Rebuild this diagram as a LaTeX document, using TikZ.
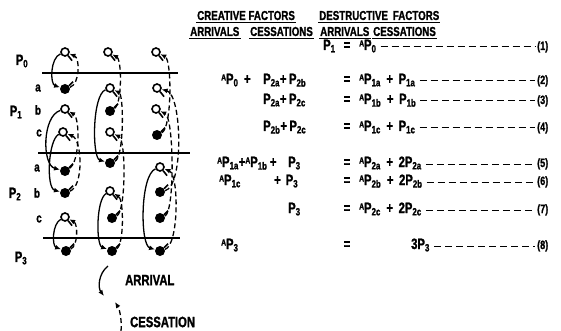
\documentclass[tikz,border=0pt]{standalone}
\usepackage{fontspec}
\setmainfont{Liberation Sans}[FakeStretch=0.75,BoldFeatures={FakeBold=1.2}]
\usetikzlibrary{arrows.meta,positioning}
\newcommand{\Psub}[1]{P\textsubscript{#1}}
\newcommand{\Asm}{\raisebox{3.5pt}{\fontsize{9}{9}\selectfont A}}
\tikzset{
  stub/.style={line width=1.6pt},
  free/.style={circle,draw,line width=1.6pt,inner sep=0pt,minimum size=8pt,
    append after command={(\tikzlastnode.-50) edge[stub] +(4pt,-5pt)}},
  busy/.style={circle,fill,inner sep=0pt,minimum size=10pt,
    append after command={(\tikzlastnode.40) edge[stub] +(4pt,4pt)}},
  level/.style={line width=1.7pt},
  arrival/.style={line width=1.3pt,-{Latex[length=6pt,width=5pt]}},
  cessation/.style={arrival,dash pattern=on 5pt off 3pt},
  lvl/.style={font=\bfseries\fontsize{15}{16}\selectfont,inner sep=1pt},
  sub/.style={font=\bfseries\fontsize{13}{14}\selectfont,inner sep=1pt},
  head/.style={font=\bfseries\fontsize{13}{14}\selectfont,inner sep=1pt,anchor=base west},
  eqn/.style={font=\bfseries\fontsize{15}{16}\selectfont,inner sep=1pt,anchor=base west},
  lead/.style={line width=1pt,dash pattern=on 7pt off 4pt},
  tag/.style={font=\bfseries\fontsize{12}{13}\selectfont,inner sep=1pt,anchor=base west},
  legend/.style={font=\bfseries\fontsize{15}{16}\selectfont,inner sep=1pt,anchor=west}
}
\begin{document}
\begin{tikzpicture}[x=1pt,y=-1pt]
  \useasboundingbox (0,0) rectangle (561,331);
  % states
  \node[free] (P0-1) at (65,52) {};
  \node[free] (P0-2) at (108,52) {};
  \node[free] (P0-3) at (156,52) {};
  \node[busy] (P1a-1) at (65,89) {};
  \node[free] (P1a-2) at (110,88) {};
  \node[free] (P1a-3) at (157,88) {};
  \node[free] (P1b-1) at (65,109) {};
  \node[busy] (P1b-2) at (110,111) {};
  \node[free] (P1b-3) at (156,109) {};
  \node[free] (P1c-1) at (63,132) {};
  \node[free] (P1c-2) at (110,132) {};
  \node[busy] (P1c-3) at (157,135) {};
  \node[busy] (P2a-1) at (65,171) {};
  \node[busy] (P2a-2) at (110,163) {};
  \node[free] (P2a-3) at (160,167) {};
  \node[busy] (P2b-1) at (65,193) {};
  \node[free] (P2b-2) at (110,191) {};
  \node[busy] (P2b-3) at (160,192) {};
  \node[free] (P2c-1) at (65,217) {};
  \node[busy] (P2c-2) at (112,218) {};
  \node[busy] (P2c-3) at (160,218) {};
  \node[busy] (P3-1) at (66,251) {};
  \node[busy] (P3-2) at (112,251) {};
  \node[busy] (P3-3) at (160,251) {};
  % level lines
  \draw[level] (42,73) -- (178,73);
  \draw[level] (38,153) -- (190,153);
  \draw[level] (43,238) -- (180,238);
  % row labels
  \node[lvl] (L0) at (22,61) {\Psub{0}};
  \node[lvl] (L1) at (16,112) {\Psub{1}};
  \node[lvl] (L2) at (15,194) {\Psub{2}};
  \node[lvl] (L3) at (21,258) {\Psub{3}};
  \node[sub] (la1) at (38,88) {a};
  \node[sub] (lb1) at (38,110) {b};
  \node[sub] (lc1) at (39,133) {c};
  \node[sub] (la2) at (37,168) {a};
  \node[sub] (lb2) at (37,193) {b};
  \node[sub] (lc2) at (39,219) {c};
  % channel 1
  \draw[arrival] (P0-1) .. controls (50,58) and (50,84) .. (P1a-1);
  \draw[cessation] (P1a-1) .. controls (80,84) and (80,58) .. (P0-1);
  \draw[arrival] (P1b-1) .. controls (42,116) and (42,165) .. (P2a-1);
  \draw[cessation] (P2a-1) .. controls (80,162) and (80,118) .. (P1b-1);
  \draw[arrival] (P1c-1) .. controls (48,140) and (46,188) .. (P2b-1);
  \draw[cessation] (P2b-1) .. controls (84,186) and (82,140) .. (P1c-1);
  \draw[arrival] (P2c-1) .. controls (52,224) and (52,246) .. (P3-1);
  \draw[cessation] (P3-1) .. controls (78,246) and (78,224) .. (P2c-1);
  % channel 2
  \draw[cessation] (P1b-2) .. controls (122,104) and (122,60) .. (P0-2);
  \draw[arrival] (P1a-2) .. controls (92,95) and (92,158) .. (P2a-2);
  \draw[cessation] (P2a-2) .. controls (124,158) and (124,95) .. (P1a-2);
  \draw[cessation] (P2c-2) .. controls (126,212) and (126,140) .. (P1c-2);
  \draw[arrival] (P2b-2) .. controls (96,200) and (96,245) .. (P3-2);
  \draw[cessation] (P3-2) .. controls (124,245) and (124,200) .. (P2b-2);
  % channel 3
  \draw[cessation] (P1c-3) .. controls (172,128) and (172,60) .. (P0-3);
  \draw[cessation] (P2b-3) .. controls (184,186) and (182,95) .. (P1a-3);
  \draw[cessation] (P2c-3) .. controls (175,212) and (174,118) .. (P1b-3);
  \draw[arrival] (P2a-3) .. controls (140,175) and (140,245) .. (P3-3);
  \draw[cessation] (P3-3) .. controls (179,245) and (179,175) .. (P2a-3);
  % legend
  \coordinate (arrS) at (108,266);
  \coordinate (arrE) at (104,296);
  \draw[arrival] (arrS) .. controls (98,274) and (98,288) .. (arrE);
  \node[legend] (arrT) at (124,280) {ARRIVAL};
  \coordinate (cesS) at (121,331);
  \coordinate (cesE) at (115,302);
  \draw[cessation] (cesS) .. controls (122,322) and (120,310) .. (cesE);
  \node[legend] (cesT) at (129,322) {CESSATION};
  % headings
  \node[head] (hcre) at (196,20) {CREATIVE FACTORS};
  \node[head] (hdes) at (318,20) {DESTRUCTIVE \,FACTORS};
  \node[head] (harr1) at (189,36) {ARRIVALS};
  \node[head] (hces1) at (249,36) {CESSATIONS};
  \node[head] (harr2) at (319,36) {ARRIVALS};
  \node[head] (hces2) at (372,36) {CESSATIONS};
  \foreach \h in {hcre,hdes,harr1,hces1,harr2,hces2}
    \draw[line width=1.1pt] ([yshift=-2.5pt]\h.base west) -- ([yshift=-2.5pt]\h.base east);
  % balance equations
  \node[eqn] (e1l) at (322,50) {\Psub{1}};
  \node[eqn] (e2l) at (262,84) {\Psub{2a}+\,\Psub{2b}};
  \node[eqn] (e3l) at (262,104) {\Psub{2a}+\,\Psub{2c}};
  \node[eqn] (e4l) at (262,131) {\Psub{2b}+\,\Psub{2c}};
  \node[eqn] (e5l) at (287,167) {\Psub{3}};
  \node[eqn] (e6l) at (273,185) {+\,\,\Psub{3}};
  \node[eqn] (e7l) at (287,213) {\Psub{3}};
  \node[eqn] (e2a) at (220,84) {\Asm\Psub{0}\, +};
  \node[eqn] (e5a) at (216,167) {\Asm\Psub{1a}+\Asm\Psub{1b}\,+};
  \node[eqn] (e6a) at (218,185) {\Asm\Psub{1c}};
  \node[eqn] (e8a) at (220,249) {\Asm\Psub{3}};
  \foreach \r/\y in {1/50,2/84,3/104,4/131,5/167,6/185,7/213,8/249}
    \node[eqn,anchor=base] (q\r) at (347,\y) {=};
  \node[eqn] (e1r) at (358,50) {\Asm\Psub{0}};
  \node[eqn] (e2r) at (358,84) {\Asm\Psub{1a}\, + \,\Psub{1a}};
  \node[eqn] (e3r) at (358,104) {\Asm\Psub{1b}\, + \,\Psub{1b}};
  \node[eqn] (e4r) at (358,131) {\Asm\Psub{1c}\, + \,\Psub{1c}};
  \node[eqn] (e5r) at (358,167) {\Asm\Psub{2a}\, + \,2\Psub{2a}};
  \node[eqn] (e6r) at (358,185) {\Asm\Psub{2b}\, + \,2\Psub{2b}};
  \node[eqn] (e7r) at (358,213) {\Asm\Psub{2c}\, + \,2\Psub{2c}};
  \node[eqn] (e8r) at (410,249) {3\Psub{3}};
  % equation numbers
  \foreach \r/\y in {1/50,2/84,3/104,4/131,5/167,6/185,7/213,8/249}
    \node[tag] (n\r) at (536,\y) {(\r)};
  \foreach \r in {1,...,8}
    \draw[lead] ([shift={(3pt,3pt)}]e\r r.base east) -- ([shift={(-1pt,3pt)}]n\r.base west);
\end{tikzpicture}
\end{document}
